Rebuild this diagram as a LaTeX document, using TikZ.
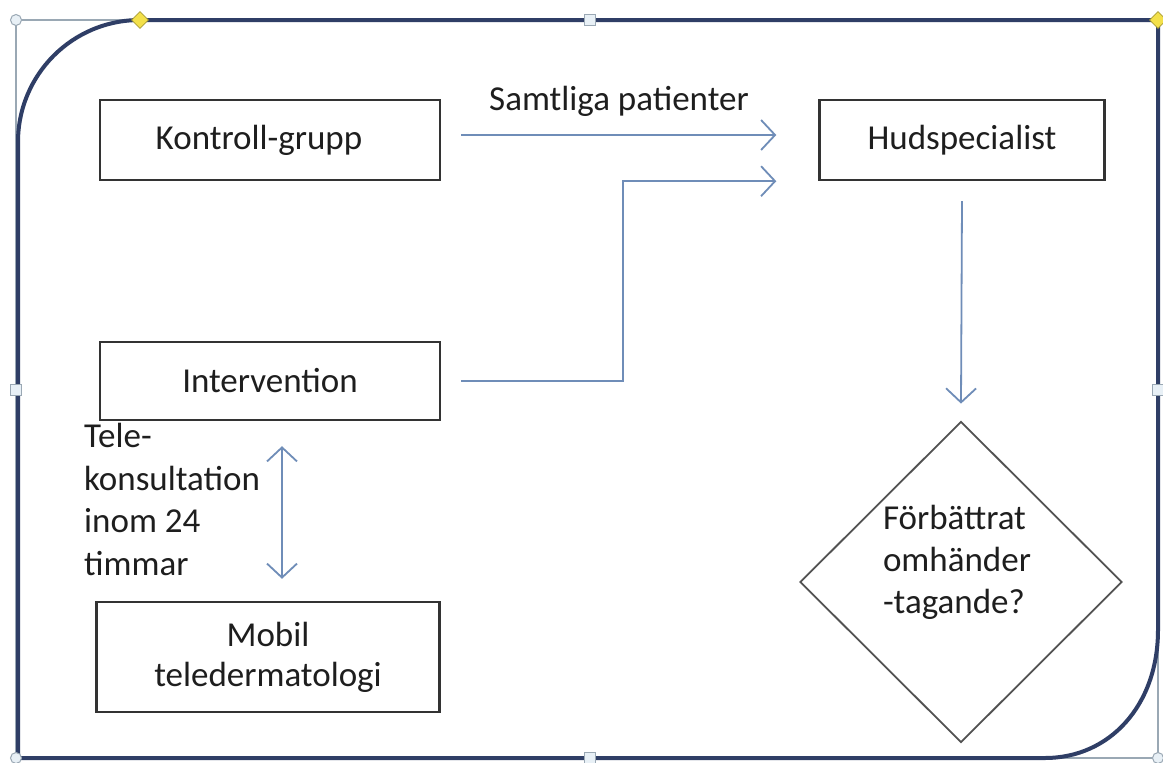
\documentclass[tikz,border=0pt]{standalone}
\usepackage{fontspec}
\setmainfont{Carlito}
\usetikzlibrary{arrows.meta,calc,shapes.geometric}
\definecolor{frameblue}{HTML}{2F3E66}
\definecolor{arrowblue}{HTML}{6F8DB8}
\definecolor{boxgray}{HTML}{333333}
\definecolor{txt}{HTML}{1E1E1E}
\definecolor{handlefill}{HTML}{E8F0F6}
\definecolor{handleline}{HTML}{9AA8B4}
\definecolor{yel}{HTML}{F3E04A}
\tikzset{
  box/.style={draw=boxgray,line width=2.4pt,text=txt,inner sep=0pt,font=\fontsize{35}{40}\selectfont,align=center},
  lbl/.style={text=txt,inner sep=0pt,font=\fontsize{35}{41}\selectfont},
  arr/.style={draw=arrowblue,line width=1.8pt,-{Straight Barb[length=14pt,width=30pt,line width=1.8pt]}},
  darr/.style={draw=arrowblue,line width=1.8pt,{Straight Barb[length=14pt,width=30pt,line width=1.8pt]}-{Straight Barb[length=14pt,width=30pt,line width=1.8pt]}},
  sqhandle/.style={draw=handleline,fill=handlefill,line width=1pt,minimum size=11pt,inner sep=0pt,rectangle},
  cirhandle/.style={draw=handleline,fill=handlefill,line width=1pt,minimum size=11pt,inner sep=0pt,circle},
  yhandle/.style={draw=yel!70!black,fill=yel,line width=0.8pt,minimum size=17pt,inner sep=0pt,diamond},
}
\begin{document}
\begin{tikzpicture}[x=1pt,y=-1pt]
\useasboundingbox (0,0) rectangle (1163,763);
\fill[white] (0,0) rectangle (1163,763);
% selection rectangle
\draw[handleline,line width=1.4pt] (16,20) rectangle (1158,758);
% outer frame
\draw[frameblue,line width=4pt,line join=round]
  (18,758) -- (18,142) .. controls (18,75) and (72,20) .. (140,20)
  -- (1158,20) -- (1158,630) .. controls (1158,705) and (1110,758) .. (1045,758) -- cycle;
% handles
\node[cirhandle] (c1) at (16,20) {};
\node[cirhandle] (c2) at (16,758) {};
\node[cirhandle] (c3) at (1158,758) {};
\node[sqhandle] (s1) at (590,20) {};
\node[sqhandle] (s2) at (16,390) {};
\node[sqhandle] (s3) at (1158,390) {};
\node[sqhandle] (s4) at (590,758) {};
\node[yhandle] (y1) at (140,20) {};
\node[yhandle] (y2) at (1158,20) {};
% boxes
\node[box,minimum width=340pt,minimum height=80pt] (k) at (270,140) {Kontroll-grupp\hspace*{22pt}};
\node[box,minimum width=285pt,minimum height=80pt] (h) at (962,140) {Hudspecialist};
\node[box,minimum width=340pt,minimum height=78pt] (i) at (270,381) {Intervention};
\node[box,minimum width=343pt,minimum height=110pt] (m) at (268,657) {Mobil\\teledermatologi};
\node[diamond,draw=boxgray!85,line width=1.8pt,minimum width=322pt,minimum height=321pt,inner sep=0pt] (q) at (961,582) {};
\node[lbl,align=left,font=\fontsize{35}{42}\selectfont] (qt) at (957,562) {Förbättrat\\omhänder\\-tagande?};
\node[lbl,align=left,anchor=north west,font=\fontsize{35}{42.5}\selectfont] (tk) at (84,423) {Tele-\\konsultation\\inom 24\\timmar};
\node[lbl] (sp) at (619,101) {Samtliga patienter};
% connectors
\draw[arr] ($(k.east)+(20,-5)$) -- ($(h.west)+(-42,-5)$);
\draw[arr] ($(i.east)+(20,0)$) -- ++(162,0) |- ($(h.south west)+(-42,0)$);
\draw[arr] ($(h.south)+(0,20)$) -- ($(q.north)+(0,-17)$);
\draw[darr] ($(i.south)+(12,25)$) -- ($(m.north)+(14,-22)$);
\end{tikzpicture}
\end{document}
